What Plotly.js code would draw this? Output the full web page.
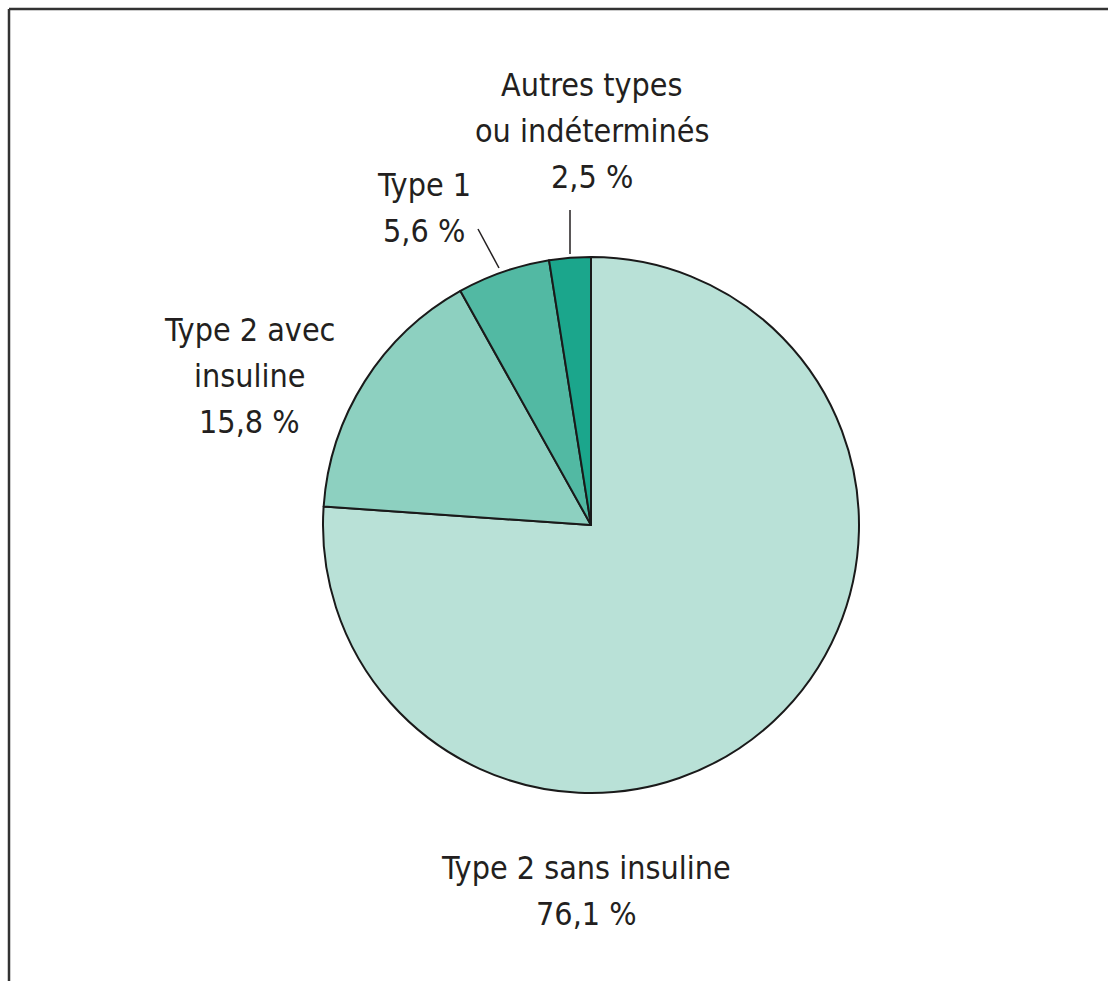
<!DOCTYPE html>
<html>
<head>
<meta charset="utf-8">
<script src="https://cdn.plot.ly/plotly-3.0.1.min.js"></script>
<style>html,body{margin:0;padding:0;background:#fff;}#chart{width:1108px;height:981px;}</style>
</head>
<body>
<div id="chart"></div>
<script>
const categories = ["Type 2 sans insuline", "Type 2 avec insuline", "Type 1", "Autres types ou indéterminés"];
const values = [76.1, 15.8, 5.6, 2.5];
const valueLabels = ["76,1 %", "15,8 %", "5,6 %", "2,5 %"];
const labelLines = [
  ["Type 2 sans insuline", "76,1 %"],
  ["Type 2 avec", "insuline", "15,8 %"],
  ["Type 1", "5,6 %"],
  ["Autres types", "ou indéterminés", "2,5 %"]
];
const colors = ["#b9e1d7", "#8dd0c0", "#52b9a3", "#1ba68c"];

const W = 1108, H = 981;
const FONT = {family: "DejaVu Sans Condensed, sans-serif", size: 32, color: "#231f20"};
const LINE_H = 46;
// label anchor (center of first line) in pixels
const labelPos = [[586, 868], [250, 330], [424, 185], [592, 85]];

const annotations = [];
labelLines.forEach((lines, i) => {
  lines.forEach((t, j) => {
    annotations.push({
      xref: "paper", yref: "paper",
      x: labelPos[i][0] / W, y: 1 - (labelPos[i][1] + j * LINE_H) / H,
      text: t, showarrow: false, font: FONT,
      xanchor: "center", yanchor: "middle"
    });
  });
});

const shapes = [
  // frame (top & left)
  {type: "line", xref: "paper", yref: "paper", x0: 9 / W, x1: 1, y0: 1 - 9 / H, y1: 1 - 9 / H, line: {color: "#333", width: 2.5}},
  {type: "line", xref: "paper", yref: "paper", x0: 9 / W, x1: 9 / W, y0: 1 - 9 / H, y1: 0, line: {color: "#333", width: 2.5}},
  // leader lines
  {type: "line", xref: "paper", yref: "paper", x0: 478 / W, x1: 499 / W, y0: 1 - 229 / H, y1: 1 - 268 / H, line: {color: "#231f20", width: 1.5}},
  {type: "line", xref: "paper", yref: "paper", x0: 570 / W, x1: 570 / W, y0: 1 - 210 / H, y1: 1 - 254 / H, line: {color: "#231f20", width: 1.5}}
];

const cx = 591, cy = 525, r = 268;
const data = [{
  type: "pie",
  labels: categories,
  values: values,
  sort: false,
  direction: "clockwise",
  rotation: 0,
  textinfo: "none",
  hoverinfo: "label+percent",
  marker: {colors: colors, line: {color: "#1a1a1a", width: 2}},
  domain: {x: [(cx - r) / W, (cx + r) / W], y: [1 - (cy + r) / H, 1 - (cy - r) / H]},
  showlegend: false
}];

const layout = {
  width: W, height: H,
  margin: {l: 0, r: 0, t: 0, b: 0},
  paper_bgcolor: "#ffffff",
  plot_bgcolor: "#ffffff",
  showlegend: false,
  annotations: annotations,
  shapes: shapes
};

Plotly.newPlot("chart", data, layout, {displayModeBar: false, staticPlot: true});
</script>
</body>
</html>
